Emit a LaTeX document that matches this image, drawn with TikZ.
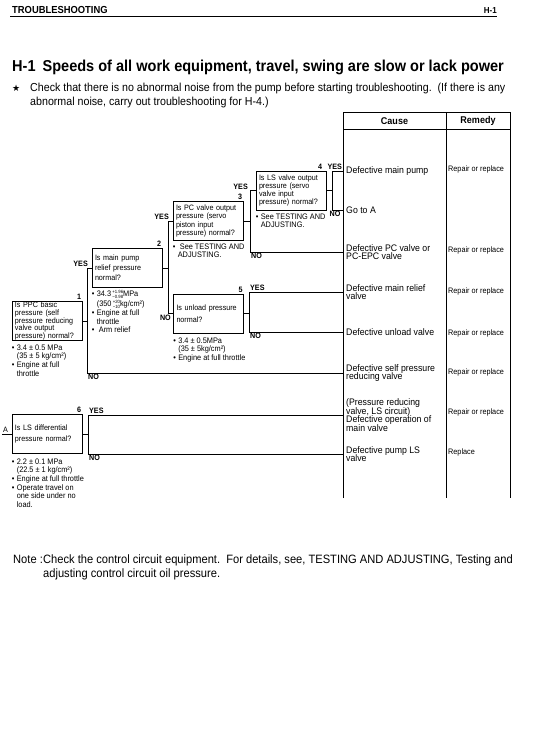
\documentclass[tikz,border=0pt]{standalone}
\usepackage{fontspec}
\setmainfont[FakeStretch=0.92]{Liberation Sans}
\newfontfamily\symfont{DejaVu Sans}
\usepackage{amsmath}
\usetikzlibrary{positioning}
\tikzset
{
    qbox/.style   = {rectangle, draw=black, line width=0.8pt, align=left, text width=64pt, minimum height=39pt, inner xsep=3pt, inner ysep=0.5pt, font=\fontsize{7.8}{8.3}\selectfont},
    note/.style   = {align=left, inner sep=0pt, font=\fontsize{8}{8.7}\selectfont},
    num/.style    = {inner sep=1pt, font=\bfseries\fontsize{7.8}{8}\selectfont},
    link/.style   = {line width=0.7pt},
    cause/.style  = {anchor=west, align=left, inner xsep=3pt, inner ysep=0pt, font=\fontsize{9.5}{8.6}\selectfont},
    remedy/.style = {anchor=west, align=left, inner xsep=2pt, inner ysep=0pt, font=\fontsize{7.9}{8}\selectfont},
    head/.style   = {inner sep=0pt, font=\bfseries\fontsize{9.8}{10}\selectfont},
    body/.style   = {anchor=north west, align=left, inner sep=0pt, font=\fontsize{11.6}{14}\selectfont}
}
\newcommand{\nbul}{\makebox[5pt][l]{\textbullet}}
\newcommand{\nind}{\hspace*{5pt}}
\newcommand{\tolr}[2]{\raisebox{-2pt}{\vbox{\fontsize{4.6}{5.2}\selectfont\hbox{#1}\hbox{#2}}}}

\begin{document}
\lineskiplimit=-\maxdimen
\begin{tikzpicture}[x=1pt, y=-1pt]
	\useasboundingbox (0,0) rectangle (540,745);

	% page head and title
	\node (hd) [anchor=base west, inner sep=0pt, font=\bfseries\fontsize{10.2}{10}\selectfont] at (12,13) {TROUBLESHOOTING};
	\node (hp) [anchor=base east, inner sep=0pt, font=\bfseries\fontsize{8.7}{10}\selectfont] at (497,13) {H-1};
	\draw [line width=1pt] (10,16) -- (497,16);
	\node (title) [anchor=base west, inner sep=0pt, font=\bfseries\fontsize{15.8}{16}\selectfont] at (12,71) {H-1\hspace{7pt}Speeds of all work equipment, travel, swing are slow or lack power};
	\node (star) [anchor=base west, inner sep=0pt, font=\symfont\fontsize{9}{8}\selectfont] at (12,91) {★};
	\node (intro) [body] at (30,82.5) {Check that there is no abnormal noise from the pump before starting troubleshooting.\ \ (If there is any\\abnormal noise, carry out troubleshooting for H-4.)};

	% cause / remedy table
	\draw [line width=0.8pt] (343,498) -- (343,112) -- (510,112) -- (510,498);
	\draw [line width=0.8pt] (343,129) -- (510,129);
	\draw [line width=0.8pt] (446,112) -- (446,498);
	\node (hc) [head] at (394.5,121) {Cause};
	\node (hr) [head] at (478,121) {Remedy};

	\node (c1) [cause] at (343,171) {Defective main pump};
	\node (c2) [cause] at (343,210) {Go to A};
	\node (c3) [cause] at (343,252) {Defective PC valve or\\PC-EPC valve};
	\node (c4) [cause] at (343,292) {Defective main relief\\valve};
	\node (c5) [cause] at (343,332) {Defective unload valve};
	\node (c6) [cause] at (343,373) {Defective self pressure\\reducing valve};
	\node (c7) [cause] at (343,415) {(Pressure reducing\\valve, LS circuit)\\Defective operation of\\main valve};
	\node (c8) [cause] at (343,454) {Defective pump LS\\valve};

	\node (r1) [remedy] at (446,169) {Repair or replace};
	\node (r3) [remedy] at (446,250) {Repair or replace};
	\node (r4) [remedy] at (446,291) {Repair or replace};
	\node (r5) [remedy] at (446,333) {Repair or replace};
	\node (r6) [remedy] at (446,372) {Repair or replace};
	\node (r7) [remedy] at (446,412) {Repair or replace};
	\node (r8) [remedy] at (446,452) {Replace};

	% check boxes
	\node (q1) [qbox, font=\fontsize{7.8}{7.7}\selectfont] at (47,321) {Is PPC basic\\pressure (self\\pressure reducing\\valve output\\pressure) normal?};
	\node (q2) [qbox, font=\fontsize{7.8}{10.2}\selectfont] at (127,268) {Is main pump\\relief pressure\\normal?};
	\node (q3) [qbox] at (208,221) {Is PC valve output\\pressure (servo\\piston input\\pressure) normal?};
	\node (q4) [qbox] at (291,190.5) {Is LS valve output\\pressure (servo\\valve input\\pressure) normal?};
	\node (q5) [qbox, font=\fontsize{7.8}{12}\selectfont] at (208.5,313.5) {Is unload pressure\\normal?};
	\node (q6) [qbox, font=\fontsize{7.8}{11}\selectfont] at (47,434) {Is LS differential\\pressure normal?};

	\node (k1) [num, anchor=south east] at (q1.north east) {1};
	\node (k2) [num, anchor=south east] at (q2.north east) {2};
	\node (k3) [num, anchor=south east] at (q3.north east) {3};
	\node (k4) [num, anchor=south east, xshift=-3pt] at (q4.north east) {4};
	\node (k5) [num, anchor=south east] at (q5.north east) {5};
	\node (k6) [num, anchor=south east] at (q6.north east) {6};

	\node (n1) [note, below right=3.5pt and 0pt of q1.south west] {\nbul 3.4 ± 0.5 MPa\\\nind(35 ± 5 kg/cm²)\\\nbul Engine at full\\\nind throttle};
	\node (n2) [note, below right=2pt and 0pt of q2.south west] {\nbul 34.3\,\tolr{+1.96}{−0.98}MPa\\[1.5pt]\nind(350\,\tolr{+20}{−10}kg/cm²)\\\nbul Engine at full\\\nind throttle\\\nbul\ Arm relief};
	\node (n3) [note, below right=2.5pt and 0pt of q3.south west] {\nbul\ See TESTING AND\\\nind ADJUSTING.};
	\node (n4) [note, below right=3pt and 0pt of q4.south west] {\nbul See TESTING AND\\\nind ADJUSTING.};
	\node (n5) [note, below right=4pt and 0pt of q5.south west] {\nbul 3.4 ± 0.5MPa\\\nind(35 ± 5kg/cm²)\\\nbul Engine at full throttle};
	\node (n6) [note, below right=4.5pt and 0pt of q6.south west] {\nbul 2.2 ± 0.1 MPa\\\nind(22.5 ± 1 kg/cm²)\\\nbul Engine at full throttle\\\nbul Operate travel on\\\nind one side under no\\\nind load.};

	% branch points
	\coordinate (j1) at (87,0);
	\coordinate (j2) at (168,0);
	\coordinate (j3) at (250,0);
	\coordinate (j4) at (332,0);
	\coordinate (j5) at (249,0);
	\coordinate (j6) at (88,0);
	\coordinate (a0) at (2,434);

	\draw [link] (q1.east) -- (q1.east -| j1) |- (q2.west);
	\draw [link] (q1.east -| j1) |- (c6.west);
	\draw [link] (q2.east) -- (q2.east -| j2) |- (q3.west);
	\draw [link] (q2.east -| j2) |- (q5.west);
	\draw [link] (q3.east) -- (q3.east -| j3) |- (q4.west);
	\draw [link] (q3.east -| j3) |- (c3.west);
	\draw [link] (q4.east) -- (q4.east -| j4) |- (c1.west);
	\draw [link] (q4.east -| j4) |- (c2.west);
	\draw [link] (q5.east) -- (q5.east -| j5) |- (c4.west);
	\draw [link] (q5.east -| j5) |- (c5.west);
	\draw [link] (q6.east) -- (q6.east -| j6) |- (c7.west);
	\draw [link] (q6.east -| j6) |- (c8.west);
	\draw [link] (a0) -- (q6.west);
	\node (la) [anchor=south west, inner sep=1pt, font=\fontsize{7.8}{8}\selectfont] at (a0) {A};

	% yes / no labels
	\node (y1) [num, anchor=south east, xshift=2pt] at (q2.west -| j1) {YES};
	\node (o1) [num, anchor=north west] at (c6.west -| j1) {NO};
	\node (y2) [num, anchor=south east, xshift=2pt] at (q3.west -| j2) {YES};
	\node (o2) [num, anchor=north east, xshift=4pt] at (q5.west -| j2) {NO};
	\node (y3) [num, anchor=south east, xshift=-1pt] at (q4.west -| j3) {YES};
	\node (o3) [num, anchor=north west] at (c3.west -| j3) {NO};
	\node (y4) [num, anchor=south west] at (q4.north east) {YES};
	\node (o4) [num, anchor=north, xshift=3pt] at (c2.west -| j4) {NO};
	\node (y5) [num, anchor=south west] at (c4.west -| j5) {YES};
	\node (o5) [num, anchor=north west] at (c5.west -| j5) {NO};
	\node (y6) [num, anchor=south west] at (c7.west -| j6) {YES};
	\node (o6) [num, anchor=north west] at (c8.west -| j6) {NO};

	% note
	\node (nt) [anchor=base west, inner sep=0pt, font=\fontsize{12.1}{14.5}\selectfont] at (13,563) {Note :};
	\node (ntx) [body, font=\fontsize{12.1}{14.5}\selectfont] at (43,554.5) {Check the control circuit equipment.\ \ For details, see, TESTING AND ADJUSTING, Testing and\\adjusting control circuit oil pressure.};
\end{tikzpicture}
\end{document}
